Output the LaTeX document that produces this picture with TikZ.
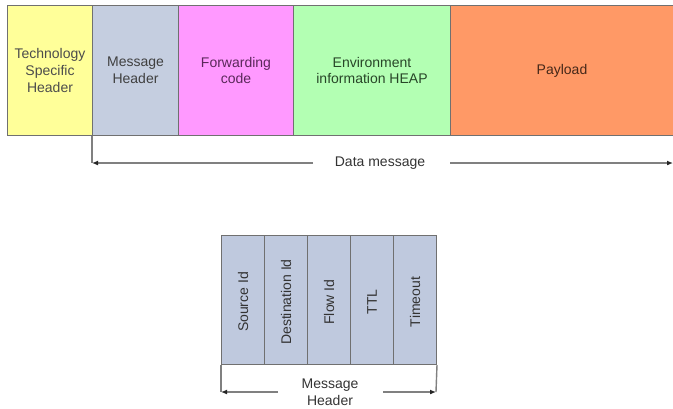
\documentclass[tikz,border=0pt]{standalone}
\usepackage{fontspec}
\setmainfont{Liberation Sans}
\usetikzlibrary{arrows.meta}
\definecolor{cyel}{HTML}{FFFF99}
\definecolor{cblue}{HTML}{C5CEE0}
\definecolor{cmag}{HTML}{FF99FF}
\definecolor{cgrn}{HTML}{B3FFB3}
\definecolor{corg}{HTML}{FF9966}
\definecolor{cbox}{HTML}{BFC9DE}
\definecolor{cedge}{HTML}{707070}
\definecolor{cline}{HTML}{808080}
\tikzset{
  field/.style={draw=cedge, line width=1pt, minimum height=130pt, inner sep=0pt, anchor=north west, align=center, font=\fontsize{14}{16.7}\selectfont},
  sub/.style={draw=cedge, line width=1pt, fill=cbox, minimum height=129pt, minimum width=43pt, inner sep=0pt, anchor=north west},
  rot/.style={rotate=90, font=\fontsize{14}{16}\selectfont, text=black!80},
  dim/.style={draw=cline, line width=1.4pt},
  dimarrow/.style={dim, -{Latex[length=6pt,width=5pt,color=black!85]}},
  lbl/.style={font=\fontsize{14}{16.5}\selectfont, text=black!80, align=center}
}
\begin{document}
\begin{tikzpicture}[x=1pt,y=-1pt]
\useasboundingbox (0,0) rectangle (673,408);
\node[field, fill=cyel, minimum width=85pt, text=black!70] (tsh) at (7,5) {Technology\\Specific\\Header};
\node[field, fill=cblue, minimum width=86pt, text=black!75] (mh) at (92,5) {Message\\Header};
\node[field, fill=cmag, minimum width=115pt, text={rgb,255:red,90;green,40;blue,90}] (fc) at (178,5) {Forwarding\\code};
\node[field, fill=cgrn, minimum width=157pt, text={rgb,255:red,40;green,70;blue,40}] (env) at (293,5) {Environment\\information HEAP};
\node[field, fill=corg, minimum width=223pt, text={rgb,255:red,70;green,40;blue,25}] (pay) at (450,5) {Payload};

\coordinate (dl) at (92,163);
\coordinate (dr) at (673,163);
\node[lbl] (dm) at (380,163) {Data message};
\draw[dim] (mh.south west) -- (dl);
\draw[dimarrow] (313,163) -- (dl);
\draw[dimarrow] (450,163) -- (dr);

\node[sub] (s1) at (221,235) {};
\node[sub] (s2) at (264,235) {};
\node[sub] (s3) at (307,235) {};
\node[sub] (s4) at (350,235) {};
\node[sub] (s5) at (393,235) {};
\node[rot] at ([yshift=-2pt]s1.center) {Source Id};
\node[rot] at ([yshift=-2pt]s2.center) {Destination Id};
\node[rot] at ([yshift=-2pt]s3.center) {Flow Id};
\node[rot] at ([yshift=-2pt]s4.center) {TTL};
\node[rot] at ([yshift=-2pt]s5.center) {Timeout};

\coordinate (ml) at (221,392);
\coordinate (mr) at (436,392);
\draw[dim] (s1.south west) -- (ml);
\draw[dim] (s5.south east) -- (mr);
\node[lbl] (mhl) at (330,392) {Message\\Header};
\draw[dimarrow] (278,392) -- (ml);
\draw[dimarrow] (383,392) -- (mr);
\end{tikzpicture}
\end{document}
